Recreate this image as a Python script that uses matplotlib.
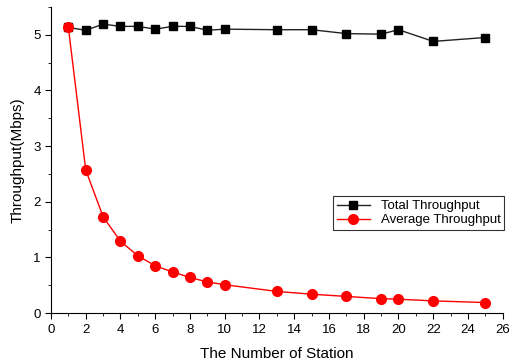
import matplotlib.pyplot as plt
from matplotlib.ticker import MultipleLocator

stations = [1, 2, 3, 4, 5, 6, 7, 8, 9, 10, 13, 15, 17, 19, 20, 22, 25]
total_tp = [5.13, 5.08, 5.19, 5.15, 5.15, 5.10, 5.15, 5.15, 5.08, 5.10,
            5.09, 5.09, 5.02, 5.01, 5.09, 4.88, 4.95]
avg_tp = [5.13, 2.57, 1.73, 1.29, 1.03, 0.85, 0.74, 0.64, 0.56, 0.51,
          0.39, 0.34, 0.30, 0.26, 0.25, 0.22, 0.19]

plt.rcParams['font.family'] = ['Liberation Sans', 'DejaVu Sans']

fig = plt.figure(figsize=(5.11, 3.62), dpi=100)
ax = fig.add_axes([0.0998, 0.135, 0.884, 0.846])

ax.plot(stations, total_tp, color='#222222', linewidth=1, marker='s',
        markersize=6, markerfacecolor='black', markeredgecolor='black',
        label='Total Throughput')
ax.plot(stations, avg_tp, color='red', linewidth=1, marker='o',
        markersize=7, markerfacecolor='red', markeredgecolor='red',
        label='Average Throughput')

ax.set_xlim(0, 26)
ax.set_ylim(0, 5.5)
ax.xaxis.set_major_locator(MultipleLocator(2))
ax.xaxis.set_minor_locator(MultipleLocator(1))
ax.yaxis.set_major_locator(MultipleLocator(1))
ax.yaxis.set_minor_locator(MultipleLocator(0.5))
ax.tick_params(which='major', direction='out', length=4, labelsize=9.5)
ax.tick_params(which='minor', direction='out', length=2)
ax.spines['top'].set_visible(False)
ax.spines['right'].set_visible(False)

ax.set_xlabel('The Number of Station', fontsize=11, labelpad=8)
ax.set_ylabel('Throughput(Mbps)', fontsize=11, labelpad=6)

# legend box sits at about (333, 196) px from the top-left corner
leg = fig.legend(loc='upper left', bbox_to_anchor=(333 / 511, 1 - 196 / 362),
                 fontsize=9.5, frameon=True, fancybox=False, edgecolor='black',
                 borderpad=0.3, labelspacing=0.15, handlelength=2.5,
                 borderaxespad=0)
leg.get_frame().set_linewidth(0.8)

fig.savefig('out.png', dpi=100)
